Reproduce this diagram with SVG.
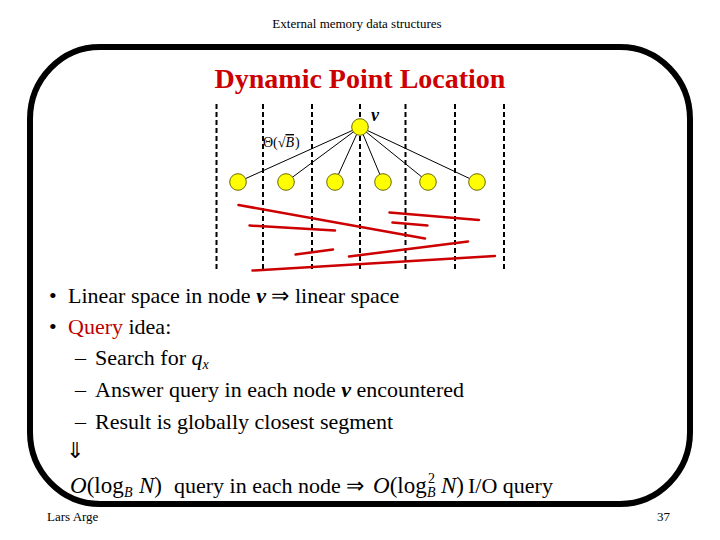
<svg xmlns="http://www.w3.org/2000/svg" width="720" height="540" viewBox="0 0 720 540" font-family="'Liberation Serif', 'Times New Roman', serif">
<style>
.dash{stroke:#000;stroke-width:2;stroke-dasharray:5 3;}
.node{fill:#ffff00;stroke:#6b6b00;stroke-width:1;}
.edge{stroke:#000;stroke-width:1;}
.seg{stroke:#cc0000;stroke-width:2.5;stroke-linecap:round;}
</style>
<rect width="720" height="540" fill="#fff"/>
<text x="357" y="28" font-size="13" text-anchor="middle" font-family="Liberation Serif">External memory data structures</text>
<rect x="30" y="47" width="660" height="457" rx="70" ry="72" fill="none" stroke="#000" stroke-width="6"/>
<text x="360" y="88" font-size="28" font-weight="bold" fill="#cc0000" text-anchor="middle" font-family="Liberation Serif">Dynamic Point Location</text>

<g id="slabs">
<line class="dash" x1="216.5" y1="104" x2="216.5" y2="272"/>
<line class="dash" x1="263" y1="104" x2="263" y2="272"/>
<line class="dash" x1="312" y1="104" x2="312" y2="272"/>
<line class="dash" x1="360" y1="104" x2="360" y2="272"/>
<line class="dash" x1="405.5" y1="104" x2="405.5" y2="272"/>
<line class="dash" x1="455" y1="104" x2="455" y2="272"/>
<line class="dash" x1="504" y1="104" x2="504" y2="272"/>
</g>

<g id="connectors">
<line class="edge" x1="360" y1="127" x2="238" y2="182"/>
<line class="edge" x1="360" y1="127" x2="286" y2="182"/>
<line class="edge" x1="360" y1="127" x2="335" y2="182"/>
<line class="edge" x1="360" y1="127" x2="383" y2="182"/>
<line class="edge" x1="360" y1="127" x2="428" y2="182"/>
<line class="edge" x1="360" y1="127" x2="477" y2="182"/>
</g>

<g id="root"><circle class="node" cx="360" cy="127" r="8.3"/>
<text x="371" y="121" font-size="18" font-style="italic" font-weight="bold" font-family="Liberation Serif">v</text></g>
<g id="c1"><circle class="node" cx="238" cy="182" r="8.3"/></g>
<g id="c2"><circle class="node" cx="286" cy="182" r="8.3"/></g>
<g id="c3"><circle class="node" cx="335" cy="182" r="8.3"/></g>
<g id="c4"><circle class="node" cx="383" cy="182" r="8.3"/></g>
<g id="c5"><circle class="node" cx="428" cy="182" r="8.3"/></g>
<g id="c6"><circle class="node" cx="477" cy="182" r="8.3"/></g>

<text x="263" y="147" font-size="14" font-family="Liberation Serif">Θ(√<tspan text-decoration="overline" font-style="italic">B</tspan><tspan dx="1">)</tspan></text>

<g id="segments">
<line class="seg" x1="238.5" y1="205" x2="425" y2="238.5"/>
<line class="seg" x1="249.5" y1="225.5" x2="335" y2="230.5"/>
<line class="seg" x1="389.5" y1="212.5" x2="479" y2="220"/>
<line class="seg" x1="392.5" y1="222.5" x2="427.5" y2="225.5"/>
<line class="seg" x1="295.5" y1="254.5" x2="333" y2="249.5"/>
<line class="seg" x1="349" y1="256.5" x2="468" y2="241.5"/>
<line class="seg" x1="252.5" y1="270.5" x2="495" y2="256"/>
</g>

<g font-family="Liberation Serif" font-size="22" fill="#000">
<text x="49" y="303">•</text>
<text x="68" y="303">Linear space in node <tspan font-style="italic" font-weight="bold">v</tspan> ⇒ linear space</text>
<text x="49" y="334">•</text>
<text x="68" y="334"><tspan fill="#bb0000">Query</tspan> idea:</text>
<text x="75" y="365">–</text>
<text x="95" y="365">Search for <tspan font-style="italic">q</tspan><tspan font-style="italic" font-size="14" dy="4">x</tspan></text>
<text x="75" y="397">–</text>
<text x="95" y="397">Answer query in each node <tspan font-style="italic" font-weight="bold">v</tspan> encountered</text>
<text x="75" y="429">–</text>
<text x="95" y="429">Result is globally closest segment</text>
<text x="66" y="458">⇓</text>
<text x="70" y="493" font-size="23"><tspan font-style="italic">O</tspan>(log</text>
<text x="124" y="497" font-size="14" font-style="italic">B</text>
<text x="139" y="493" font-size="23"><tspan font-style="italic">N</tspan>)</text>
<text x="174" y="493">query in each node ⇒</text>
<text x="373" y="493" font-size="23"><tspan font-style="italic">O</tspan>(log</text>
<text x="428" y="483" font-size="14">2</text>
<text x="427" y="497" font-size="14" font-style="italic">B</text>
<text x="441" y="493" font-size="23"><tspan font-style="italic">N</tspan>)</text>
<text x="468" y="493">I/O query</text>
</g>

<text x="47" y="521" font-size="13" font-family="Liberation Serif">Lars Arge</text>
<text x="657" y="521" font-size="13" font-family="Liberation Serif">37</text>
</svg>
